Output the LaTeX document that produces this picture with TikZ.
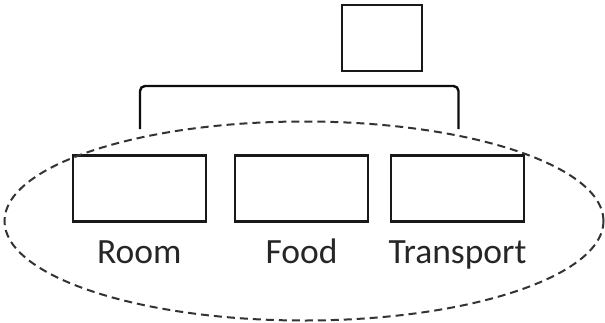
\documentclass[tikz,border=0pt]{standalone}
\usepackage{fontspec}
\setmainfont{Carlito}
\usetikzlibrary{shapes.geometric}
\begin{document}
\begin{tikzpicture}[x=1pt,y=-1pt,
  box/.style={draw=black!90,line width=2.1pt,inner sep=0pt,minimum width=133pt,minimum height=66pt},
  lbl/.style={font=\fontsize{35.5}{40}\selectfont,text=black!85,anchor=base,inner sep=0pt},
  grp/.style={draw=black!80,line width=2pt,dash pattern=on 8pt off 5pt}]
\useasboundingbox (0,0) rectangle (605,322);
\fill[white] (0,0) rectangle (605,322);
\node[box,minimum width=80pt,minimum height=65.5pt] (top) at (381.7,38) {};
\node[box] (room) at (139.5,188.5) {};
\node[box] (food) at (301.5,188.5) {};
\node[box] (trans) at (457.5,188.5) {};
\node[lbl] (lroom) at (139.3,263) {Room};
\node[lbl] (lfood) at (301.5,263) {Food};
\node[lbl] (ltrans) at (457.5,263) {Transport};
\coordinate (bl) at (140,129);
\coordinate (br) at (458.5,129);
\draw[line width=2.4pt,draw=black!95,rounded corners=5pt] (bl) |- (299,86) -| (br);
\node[grp,ellipse,minimum width=599pt,minimum height=199pt,inner sep=0pt] (set) at (304,221) {};
\end{tikzpicture}
\end{document}
